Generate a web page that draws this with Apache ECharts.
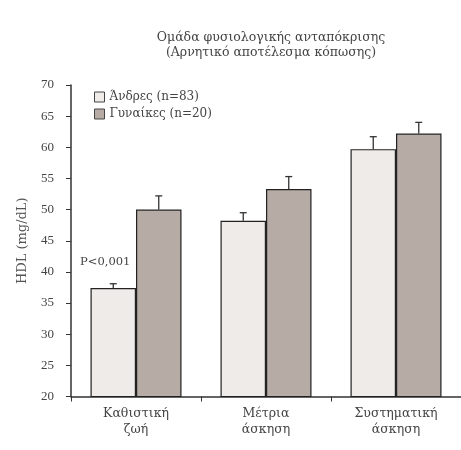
<!DOCTYPE html>
<html>
<head>
<meta charset="utf-8">
<script src="https://cdn.jsdelivr.net/npm/echarts@6/dist/echarts.min.js"></script>
<style>html,body{margin:0;padding:0;background:#fff;}#c{width:461px;height:450px;}</style>
</head>
<body>
<div id="c"></div>
<script>
const titleLines = ['Ομάδα φυσιολογικής ανταπόκρισης', '(Αρνητικό αποτέλεσμα κόπωσης)'];
const categories = ['Καθιστική\nζωή', 'Μέτρια\nάσκηση', 'Συστηματική\nάσκηση'];
const seriesNames = ['Άνδρες (n=83)', 'Γυναίκες (n=20)'];
const menValues = [37.4, 48.2, 59.7];
const menErrTop = [38.1, 49.5, 61.7];
const womenValues = [50.0, 53.3, 62.2];
const womenErrTop = [52.2, 55.3, 64.0];
const yTicks = [20, 25, 30, 35, 40, 45, 50, 55, 60, 65, 70];
const yName = 'HDL (mg/dL)';
const pText = 'P<0,001';
const pValuePos = 41.6;

const FONT = '"DejaVu Serif", "Liberation Serif", serif';
const NUMFONT = '"Liberation Serif", "DejaVu Serif", serif';
const chart = echarts.init(document.getElementById('c'), null, {renderer: 'canvas'});

function errSeries(vals, tops, side) {
  return {
    type: 'custom',
    silent: true,
    z: 5,
    data: vals.map((v, i) => [i, v, tops[i]]),
    renderItem: function (params, api) {
      const i = api.value(0);
      const base = api.coord([i, api.value(1)]);
      const top = api.coord([i, api.value(2)]);
      const bw = api.size([1, 0])[0] * 0.35;
      const x = base[0] + side * bw / 2;
      const cap = 3.5;
      const st = {stroke: '#333', lineWidth: 1.3};
      return {
        type: 'group',
        children: [
          {type: 'line', shape: {x1: x, y1: base[1], x2: x, y2: top[1]}, style: st},
          {type: 'line', shape: {x1: x - cap, y1: top[1], x2: x + cap, y2: top[1]}, style: st}
        ]
      };
    }
  };
}

chart.setOption({
  animation: false,
  backgroundColor: '#fff',
  title: {
    text: titleLines.join('\n'),
    left: 266,
    textAlign: 'center',
    top: 25,
    textStyle: {fontFamily: FONT, fontSize: 12.5, fontWeight: 'normal', color: '#444', lineHeight: 15}
  },
  legend: {
    data: seriesNames,
    orient: 'vertical',
    left: 89,
    top: 86,
    itemWidth: 10,
    itemHeight: 10,
    itemGap: 5,
    icon: 'rect',
    itemStyle: {borderColor: '#444', borderWidth: 1},
    textStyle: {fontFamily: FONT, fontSize: 12, color: '#444'}
  },
  grid: {left: 71, top: 85, width: 393, height: 311.5},
  xAxis: {
    type: 'category',
    data: categories,
    axisLine: {lineStyle: {color: '#333', width: 1.5}},
    axisTick: {show: true, length: 5, alignWithLabel: false, lineStyle: {color: '#333'}},
    axisLabel: {fontFamily: FONT, fontSize: 12.5, color: '#444', lineHeight: 16, margin: 9}
  },
  yAxis: {
    type: 'value',
    min: yTicks[0],
    max: yTicks[yTicks.length - 1],
    interval: 5,
    name: yName,
    nameLocation: 'middle',
    nameGap: 42,
    nameTextStyle: {fontFamily: FONT, fontSize: 13, color: '#555'},
    axisLine: {show: true, lineStyle: {color: '#333', width: 1.5}},
    axisTick: {show: true, length: 5, lineStyle: {color: '#333'}},
    axisLabel: {fontFamily: NUMFONT, fontSize: 13, color: '#444', margin: 17},
    splitLine: {show: false}
  },
  series: [
    {
      name: seriesNames[0],
      type: 'bar',
      data: menValues,
      barWidth: '35%',
      barGap: '0%',
      itemStyle: {color: '#efebe8', borderColor: '#222', borderWidth: 1.2},
      markPoint: {
        symbol: 'circle',
        symbolSize: 0,
        data: [{coord: [0, pValuePos], value: pText}],
        label: {show: true, formatter: pText, offset: [-8, 0], fontFamily: FONT, fontSize: 11.5, color: '#444'}
      }
    },
    {
      name: seriesNames[1],
      type: 'bar',
      data: womenValues,
      barWidth: '35%',
      barGap: '0%',
      itemStyle: {color: '#b7aba5', borderColor: '#222', borderWidth: 1.2}
    },
    errSeries(menValues, menErrTop, -1),
    errSeries(womenValues, womenErrTop, 1)
  ]
});
</script>
</body>
</html>
